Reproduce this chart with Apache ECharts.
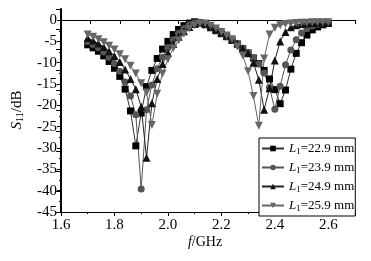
<!DOCTYPE html>
<html><head><meta charset="utf-8">
<script src="https://cdn.jsdelivr.net/npm/echarts@6/dist/echarts.min.js"></script>
<style>html,body{margin:0;padding:0;background:#fff}#c{width:371px;height:261px}</style>
</head><body><div id="c"></div>
<script>
var freq = [1.70,1.72,1.74,1.76,1.78,1.80,1.82,1.84,1.86,1.88,1.90,1.92,1.94,1.96,1.98,2.00,2.02,2.04,2.06,2.08,2.10,2.12,2.14,2.16,2.18,2.20,2.22,2.24,2.26,2.28,2.30,2.32,2.34,2.36,2.38,2.40,2.42,2.44,2.46,2.48,2.50,2.52,2.54,2.56,2.58,2.60];
var s229 = [-5.8,-6.5,-7.3,-8.4,-9.7,-11.3,-13.2,-16.2,-21.3,-29.5,-21.8,-15.6,-11.8,-9.0,-6.8,-5.0,-3.4,-2.2,-1.3,-0.7,-0.4,-0.6,-1.1,-1.8,-2.5,-3.2,-3.9,-4.7,-5.6,-6.7,-7.7,-8.9,-10.2,-11.8,-13.8,-16.3,-19.6,-16.4,-11.5,-7.8,-5.3,-3.5,-2.3,-1.6,-1.1,-0.8];
var s239 = [-5.0,-5.7,-6.5,-7.5,-8.7,-10.2,-12.0,-14.5,-17.8,-22.2,-39.6,-21.0,-15.2,-11.4,-8.7,-6.5,-4.6,-3.1,-2.0,-1.1,-0.6,-0.5,-0.9,-1.6,-2.3,-3.1,-3.9,-4.7,-5.6,-6.6,-7.6,-8.8,-10.3,-12.4,-15.8,-20.9,-15.5,-10.5,-7.0,-4.6,-3.0,-2.0,-1.4,-1.0,-0.8,-0.6];
var s249 = [-4.2,-4.8,-5.5,-6.3,-7.3,-8.4,-9.8,-11.6,-13.8,-16.2,-20.3,-32.3,-19.5,-13.8,-10.3,-7.7,-5.6,-3.9,-2.6,-1.6,-0.9,-0.6,-0.8,-1.4,-2.1,-2.9,-3.7,-4.6,-5.5,-6.6,-7.8,-10.0,-14.0,-21.0,-16.0,-9.5,-5.0,-2.8,-1.7,-1.2,-0.9,-0.8,-0.7,-0.6,-0.6,-0.5];
var s259 = [-3.4,-3.9,-4.5,-5.2,-6.0,-6.9,-8.0,-9.2,-10.7,-12.5,-14.8,-17.0,-24.6,-17.3,-12.5,-9.2,-6.6,-4.7,-3.2,-2.0,-1.2,-0.8,-0.8,-1.3,-2.0,-2.8,-3.6,-4.5,-6.2,-8.3,-12.0,-17.8,-24.8,-9.0,-3.4,-1.8,-1.2,-0.9,-0.8,-0.7,-0.6,-0.6,-0.5,-0.5,-0.5,-0.5];
var lengths = ['22.9','23.9','24.9','25.9'];
var xTicks = [1.6,1.8,2.0,2.2,2.4,2.6];
var yTicks = [0,-5,-10,-15,-20,-25,-30,-35,-40,-45];

var FONT = "'Liberation Serif','Times New Roman',serif";
function pairs(v){ return freq.map(function(f,i){ return [f, v[i]]; }); }
var styles = [
  {sym:'rect', size:7, c:'#000', lc:'#333'},
  {sym:'circle', size:7, c:'#555', lc:'#555'},
  {sym:'triangle', size:8, c:'#111', lc:'#222'},
  {sym:'path://M0,0 L10,0 L5,9 Z', size:8, c:'#666', lc:'#666'}
];
var vals = [s229, s239, s249, s259];
var series = vals.map(function(v,i){
  var st = styles[i];
  return {
    name: 'L1=' + lengths[i] + ' mm', type:'line', data: pairs(v),
    xAxisIndex:0, yAxisIndex:0,
    symbol: st.sym, symbolSize: st.size, showAllSymbol:true,
    itemStyle:{color: st.c}, lineStyle:{color: st.lc, width:1},
    emphasis:{disabled:true}, animation:false
  };
});
var chart = echarts.init(document.getElementById('c'), null, {renderer:'canvas'});
chart.setOption({
  backgroundColor:'#fff',
  animation:false,
  grid:{left:61, top:9, width:294, height:203},
  xAxis:[{
    type:'value', position:'bottom', min:1.6, max:2.7, interval:0.2,
    axisLine:{onZero:false, lineStyle:{color:'#000', width:1}},
    axisTick:{show:true, inside:false, length:4, lineStyle:{color:'#000'}},
    minorTick:{show:true, splitNumber:2, length:2, lineStyle:{color:'#000'}},
    splitLine:{show:false},
    axisLabel:{margin:6, fontSize:15, color:'#000', fontFamily:FONT, showMaxLabel:false,
      formatter:function(v){ return xTicks.indexOf(Math.round(v*10)/10) >= 0 ? v.toFixed(1) : ''; }}
  },{
    type:'value', position:'top', min:0, max:10, interval:1,
    axisLine:{lineStyle:{color:'#000', width:1}},
    axisTick:{show:true, inside:true, length:4, lineStyle:{color:'#000'}},
    axisLabel:{show:false}, splitLine:{show:false}
  }],
  yAxis:[{
    type:'value', position:'left', min:-45, max:2.6, interval:5,
    axisLine:{show:true, onZero:false, lineStyle:{color:'#000', width:1}},
    axisTick:{show:true, inside:false, length:4, lineStyle:{color:'#000'}},
    minorTick:{show:true, splitNumber:2, length:2, lineStyle:{color:'#000'}},
    splitLine:{show:false},
    axisLabel:{margin:4, fontSize:15, color:'#000', fontFamily:FONT, showMaxLabel:false,
      formatter:function(v){ return yTicks.indexOf(Math.round(v)) >= 0 ? String(Math.round(v)) : ''; }}
  },{
    type:'value', position:'right', min:0, max:10, interval:1,
    axisLine:{show:true, lineStyle:{color:'#000', width:2}},
    axisTick:{show:true, inside:true, length:5, lineStyle:{color:'#000'}},
    axisLabel:{show:false}, splitLine:{show:false}
  }],
  legend:{
    orient:'vertical', left:259, top:138, padding:[3,1,3,2], itemGap:4,
    itemWidth:22, itemHeight:7,
    backgroundColor:'#fff', borderColor:'#000', borderWidth:1, borderRadius:0,
    data: series.map(function(s){ return s.name; }),
    formatter:function(name){ var m = name.split('='); return '{i|L}{s|1}{n|=' + m[1] + '}'; },
    textStyle:{color:'#000', fontFamily:FONT, fontSize:13,
      rich:{
        i:{fontStyle:'italic', fontSize:13, fontFamily:FONT, color:'#000', lineHeight:14},
        s:{fontSize:9, fontFamily:FONT, color:'#000', lineHeight:14, padding:[6,0,0,0]},
        n:{fontSize:13, fontFamily:FONT, color:'#000', lineHeight:14}
      }}
  },
  graphic:[{
    type:'text', x:17, y:110, rotation:Math.PI/2,
    style:{text:'{i|S}{s|11}{n|/dB}', x:0, y:0, align:'center', verticalAlign:'middle',
      fill:'#000', font:'15px ' + FONT,
      rich:{
        i:{fontStyle:'italic', fontSize:15, fontFamily:FONT, fill:'#000'},
        s:{fontSize:10, fontFamily:FONT, fill:'#000', padding:[7,0,0,0]},
        n:{fontSize:15, fontFamily:FONT, fill:'#000'}
      }}
  },{
    type:'text', x:205, y:242,
    style:{text:'{i|f}{n|/GHz}', x:0, y:0, align:'center', verticalAlign:'middle', fill:'#000',
      font:'14px ' + FONT,
      rich:{
        i:{fontStyle:'italic', fontSize:14, fontFamily:FONT, fill:'#000'},
        n:{fontSize:14, fontFamily:FONT, fill:'#000'}
      }}
  }],
  series: series
});
</script></body></html>
